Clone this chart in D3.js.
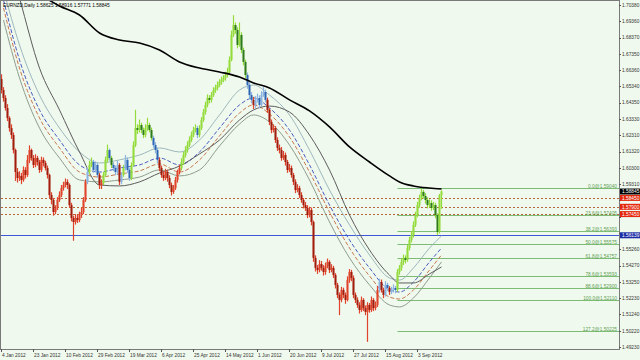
<!DOCTYPE html>
<html>
<head>
<meta charset="utf-8">
<script src="https://cdn.jsdelivr.net/npm/d3@7"></script>
<style>
  html, body { margin: 0; padding: 0; background: #f0f9ee; }
  #chart { width: 640px; height: 360px; }
  text { font-family: "Liberation Sans", Arial, sans-serif; }
</style>
</head>
<body>
<div id="chart"></div>
<script>
// EURNZD daily, Jan - Sep 2012 (prices in points, 1 point = 0.0001)
const symbolTitle = "EURNZD,Daily  1.58625 1.58916 1.57771 1.58845";

const dateLabels = ["4 Jan 2012", "23 Jan 2012", "10 Feb 2012", "29 Feb 2012", "19 Mar 2012", "6 Apr 2012",
  "25 Apr 2012", "14 May 2012", "1 Jun 2012", "20 Jun 2012", "9 Jul 2012", "27 Jul 2012", "15 Aug 2012", "3 Sep 2012"];
const dateBars = [0, 16, 32, 48, 64, 80, 96, 112, 128, 144, 160, 176, 192, 208];

const priceTicks = [1.70380, 1.69360, 1.68370, 1.67350, 1.66360, 1.65340, 1.64350, 1.63330, 1.62310, 1.61320,
  1.60300, 1.59310, 1.58290, 1.57300, 1.56280, 1.55260, 1.54270, 1.53250, 1.52230, 1.51240, 1.50220, 1.49230];

const opens = [
  16580,16512,16463,16401,16339,16277,16234,16141,16005,15968,
  15981,15956,16018,15987,16080,16141,16092,16049,16092,16067,
  16018,16080,16061,16030,15987,15863,15832,15758,15783,15832,
  15863,15906,15925,15944,15925,15801,15721,15696,15721,15708,
  15739,15758,15832,15944,16005,16049,16067,16018,16049,15987,
  15925,15937,15987,16080,16141,16092,16049,16030,16005,16049,
  15944,15987,16030,16080,16018,15968,16049,16172,16277,16265,
  16296,16265,16234,16277,16296,16265,16216,16172,16141,16080,
  16030,15987,15968,16005,15968,15925,15882,15906,15956,16005,
  16030,16067,16110,16141,16172,16203,16234,16265,16277,16234,
  16277,16327,16376,16420,16463,16451,16481,16512,16525,16543,
  16562,16574,16587,16605,16624,16698,16853,16914,16883,16791,
  16853,16760,16686,16605,16543,16481,16451,16420,16451,16463,
  16420,16481,16500,16451,16389,16315,16265,16277,16203,16154,
  16141,16092,16110,16067,16018,16030,15987,15944,15894,15906,
  15863,15832,15801,15783,15739,15770,15696,15474,15412,15399,
  15436,15412,15387,15424,15449,15399,15412,15368,15307,15245,
  15214,15276,15245,15214,15337,15387,15350,15245,15214,15183,
  15152,15214,15164,15140,15183,15152,15214,15164,15183,15276,
  15325,15276,15245,15307,15288,15263,15276,15288,15276,15387,
  15412,15449,15474,15461,15535,15585,15616,15678,15739,15801,
  15844,15882,15857,15832,15801,15813,15783,15801,15739,15634,
  15862];
const highs = [
  16610,16530,16480,16425,16350,16300,16250,16150,16030,16010,
  16000,16040,16035,16110,16170,16150,16110,16115,16105,16080,
  16100,16095,16075,16045,15995,15880,15845,15800,15850,15885,
  15925,15945,15965,15960,15935,15815,15735,15745,15740,15760,
  15785,15850,15960,16030,16075,16095,16080,16070,16060,16000,
  15960,16005,16100,16175,16150,16105,16065,16045,16075,16060,
  16005,16050,16110,16095,16030,16065,16195,16390,16300,16330,
  16310,16280,16300,16340,16310,16280,16230,16190,16155,16095,
  16045,16010,16025,16020,15985,15940,15925,15975,16020,16050,
  16090,16130,16165,16195,16225,16255,16285,16300,16290,16295,
  16345,16395,16440,16485,16480,16500,16530,16545,16565,16580,
  16595,16605,16625,16650,16720,16880,16975,16930,16900,16930,
  16870,16775,16700,16620,16560,16500,16470,16475,16490,16480,
  16505,16530,16515,16465,16400,16330,16300,16290,16220,16175,
  16160,16135,16125,16080,16055,16045,16000,15960,15930,15920,
  15880,15845,15820,15800,15790,15785,15705,15490,15430,15460,
  15455,15430,15445,15470,15460,15435,15425,15380,15320,15260,
  15295,15290,15260,15360,15405,15400,15365,15260,15230,15200,
  15235,15225,15180,15200,15195,15235,15225,15205,15300,15345,
  15340,15290,15330,15320,15300,15295,15310,15300,15405,15430,
  15470,15495,15490,15555,15605,15640,15700,15760,15820,15865,
  15904,15895,15875,15850,15835,15830,15820,15815,15750,15870,
  15892];
const lows = [
  16490,16440,16385,16320,16255,16210,16120,15950,15940,15950,
  15930,15945,15965,15975,16060,16075,16030,16035,16045,16000,
  16005,16040,16015,15965,15845,15805,15735,15745,15770,15820,
  15850,15890,15910,15900,15785,15700,15580,15680,15690,15695,
  15720,15745,15820,15930,15990,16035,16000,16005,15970,15900,
  15900,15925,15975,16065,16075,16030,16010,15985,15990,15925,
  15930,15975,16015,16000,15950,15955,16040,16160,16240,16250,
  16245,16215,16220,16260,16250,16200,16155,16120,16060,16010,
  15970,15950,15955,15945,15905,15860,15870,15895,15940,15990,
  16015,16050,16095,16125,16160,16190,16220,16250,16215,16220,
  16265,16315,16360,16405,16430,16435,16470,16495,16510,16530,
  16545,16560,16570,16590,16610,16690,16840,16860,16770,16780,
  16740,16665,16585,16520,16460,16430,16395,16400,16435,16400,
  16410,16470,16435,16370,16295,16245,16250,16185,16135,16120,
  16075,16080,16045,16000,16005,15970,15925,15875,15880,15845,
  15815,15780,15765,15720,15725,15675,15450,15390,15375,15385,
  15395,15365,15370,15410,15380,15385,15350,15285,15225,15120,
  15200,15225,15190,15205,15320,15330,15225,15195,15165,15130,
  15140,15145,15120,14955,15135,15140,15145,15150,15170,15260,
  15260,15225,15235,15270,15245,15250,15260,15255,15265,15370,
  15395,15430,15440,15450,15520,15570,15600,15665,15725,15785,
  15830,15840,15810,15780,15785,15765,15770,15720,15614,15625,
  15777];
const closes = [
  16512,16463,16401,16339,16277,16234,16141,16005,15968,15981,
  15956,16018,15987,16080,16141,16092,16049,16092,16067,16018,
  16080,16061,16030,15987,15863,15832,15758,15783,15832,15863,
  15906,15925,15944,15925,15801,15721,15696,15721,15708,15739,
  15758,15832,15944,16005,16049,16067,16018,16049,15987,15925,
  15937,15987,16080,16141,16092,16049,16030,16005,16049,15944,
  15987,16030,16080,16018,15968,16049,16172,16277,16265,16296,
  16265,16234,16277,16296,16265,16216,16172,16141,16080,16030,
  15987,15968,16005,15968,15925,15882,15906,15956,16005,16030,
  16067,16110,16141,16172,16203,16234,16265,16277,16234,16277,
  16327,16376,16420,16463,16451,16481,16512,16525,16543,16562,
  16574,16587,16605,16624,16698,16853,16914,16883,16791,16853,
  16760,16686,16605,16543,16481,16451,16420,16451,16463,16420,
  16481,16500,16451,16389,16315,16265,16277,16203,16154,16141,
  16092,16110,16067,16018,16030,15987,15944,15894,15906,15863,
  15832,15801,15783,15739,15770,15696,15474,15412,15399,15436,
  15412,15387,15424,15449,15399,15412,15368,15307,15245,15214,
  15276,15245,15214,15337,15387,15350,15245,15214,15183,15152,
  15214,15164,15140,15183,15152,15214,15164,15183,15276,15325,
  15276,15245,15307,15288,15263,15276,15288,15276,15387,15412,
  15449,15474,15461,15535,15585,15616,15678,15739,15801,15844,
  15882,15857,15832,15801,15813,15783,15801,15739,15634,15862,
  15885];

// trend colour of each bar as runs: r = down, g = up, b = neutral
const trendRuns = [["r",43],["b",1],["g",2],["b",3],["r",2],["g",3],["b",1],["g",1],["b",1],["b",2],["r",1],
  ["b",1],["g",1],["b",3],["g",11],["b",3],["r",11],["g",8],["b",1],["g",24],["b",3],["r",1],["b",6],["r",56],
  ["b",1],["r",2],["b",2],["r",1],["b",3],["g",23]];

// moving averages, read at these bars
const maBars = [1, 9, 19, 29, 39, 49, 59, 69, 79, 89, 99, 109, 119, 126, 134, 144, 154, 164, 174, 184, 194, 199, 206, 214, 220];
const maSlow = [17255,17193,17106,17032,16976,16865,16822,16803,16760,16686,16648,16624,16593,16556,16525,16451,16383,16284,16160,16067,15981,15944,15919,15906,15900];
const maMid = [17440,17081,16648,16389,16129,15925,15919,15944,15999,16042,16117,16203,16327,16389,16413,16376,16234,16018,15739,15523,15368,15319,15319,15375,15418];
const bandUpper = [17131,16791,16481,16277,16129,16061,16080,16110,16154,16129,16203,16358,16512,16543,16481,16358,16141,15894,15678,15492,15350,15337,15412,15535,15610];
const bandBlue = [17069,16698,16389,16203,16049,16005,16030,16049,16092,16049,16129,16277,16420,16463,16401,16265,16049,15801,15585,15412,15276,15263,15325,15449,15535];
const bandBrown = [17020,16648,16339,16154,16005,15974,15993,16012,16055,16005,16080,16228,16370,16420,16364,16222,16005,15758,15535,15362,15232,15220,15276,15399,15492];
const bandLower = [16945,16587,16277,16092,15956,15944,15956,15974,16018,15981,16018,16166,16302,16358,16315,16172,15956,15696,15474,15307,15183,15171,15226,15350,15449];

const levelPrices = [1.58450, 1.57900, 1.57450];
const supportPrice = 1.56139;
const lastPrice = 1.58845;

const fibStartBar = 198;
const fibRatios = ["0.0", "23.6", "38.2", "50.0", "61.8", "78.6", "88.6", "100.0", "127.2"];
const fibPrices = [1.59040, 1.57405, 1.56393, 1.55575, 1.54757, 1.53593, 1.52900, 1.52110, 1.50225];

function drawChart() {
    const width = 640, height = 360;
    const plot = { left: 1, top: 1, right: 619, bottom: 349 };

    const svg = d3.select('#chart').append('svg')
        .attr('width', width)
        .attr('height', height);

    svg.append('rect').attr('width', width).attr('height', height).attr('fill', '#f0f9ee');

    svg.append('clipPath').attr('id', 'plotClip')
        .append('rect')
        .attr('x', plot.left).attr('y', plot.top)
        .attr('width', plot.right - plot.left).attr('height', plot.bottom - plot.top);

    const x = d3.scaleLinear().domain([0, 1]).range([1.5, 3.5]);
    const y = d3.scaleLinear().domain([1.4923, 1.7038]).range([347, 5]);
    const pt = v => v / 10000;
    const crisp = v => Math.round(y(v)) + 0.5;

    const g = svg.append('g').attr('clip-path', 'url(#plotClip)');

    // horizontal levels
    g.selectAll('.level')
        .data(levelPrices)
        .enter().append('line')
        .attr('x1', plot.left).attr('x2', plot.right)
        .attr('y1', crisp).attr('y2', crisp)
        .attr('stroke', '#b8643a')
        .attr('stroke-dasharray', '2,2');

    g.append('line')
        .attr('x1', plot.left).attr('x2', plot.right)
        .attr('y1', crisp(supportPrice)).attr('y2', crisp(supportPrice))
        .attr('stroke', '#3f56d8')
        .attr('stroke-width', 1.2);

    // fibonacci levels
    g.selectAll('.fib')
        .data(fibPrices)
        .enter().append('line')
        .attr('x1', x(fibStartBar)).attr('x2', plot.right)
        .attr('y1', crisp).attr('y2', crisp)
        .attr('stroke', '#7cbc74');

    svg.selectAll('.fibLabel')
        .data(fibPrices)
        .enter().append('text')
        .attr('x', plot.right - 2)
        .attr('y', d => Math.round(y(d)) - 0.5)
        .attr('text-anchor', 'end')
        .attr('font-size', 4.8)
        .attr('fill', '#5f9f55')
        .text((d, i) => fibRatios[i] + '@' + d.toFixed(5));

    // moving averages
    const maLine = d3.line()
        .x((d, i) => x(maBars[i]))
        .y(d => y(pt(d)))
        .curve(d3.curveMonotoneX);

    const maStyles = [
        { data: bandLower, color: '#8d9d8d', dash: null },
        { data: bandBrown, color: '#c87850', dash: '4,2' },
        { data: bandBlue, color: '#4a5cc0', dash: '4,2' },
        { data: bandUpper, color: '#9cb8bc', dash: null },
        { data: maMid, color: '#5c5c5c', dash: null }
    ];
    maStyles.forEach(s => {
        g.append('path')
            .attr('d', maLine(s.data))
            .attr('fill', 'none')
            .attr('stroke', s.color)
            .attr('stroke-width', 1)
            .attr('stroke-dasharray', s.dash);
    });

    // candles
    const trend = [];
    trendRuns.forEach(r => { for (let k = 0; k < r[1]; k++) trend.push(r[0]); });
    const barColors = {
        r: { up: '#e0442a', down: '#a01c0c' },
        g: { up: '#94dc3c', down: '#2c7a1a' },
        b: { up: '#8cb4e2', down: '#2e66b4' }
    };
    const bars = closes.map((c, i) => ({
        i: i, o: pt(opens[i]), h: pt(highs[i]), l: pt(lows[i]), c: pt(c), t: trend[i]
    }));

    g.selectAll('.wick')
        .data(bars)
        .enter().append('line')
        .attr('x1', d => x(d.i)).attr('x2', d => x(d.i))
        .attr('y1', d => y(d.h)).attr('y2', d => y(d.l))
        .attr('stroke', d => barColors[d.t].up)
        .attr('stroke-width', 1.2);

    g.selectAll('.body')
        .data(bars)
        .enter().append('rect')
        .attr('x', d => x(d.i) - 1)
        .attr('width', 2)
        .attr('y', d => y(Math.max(d.o, d.c)))
        .attr('height', d => Math.max(1, Math.abs(y(d.o) - y(d.c))))
        .attr('fill', d => d.c >= d.o ? barColors[d.t].up : barColors[d.t].down);

    g.append('path')
        .attr('d', maLine(maSlow))
        .attr('fill', 'none')
        .attr('stroke', '#000')
        .attr('stroke-width', 1.6);

    // frame and axes
    svg.append('rect')
        .attr('x', 0.5).attr('y', 0.5)
        .attr('width', plot.right).attr('height', plot.bottom)
        .attr('fill', 'none')
        .attr('stroke', '#7a7a7a');

    const tagPrices = [lastPrice].concat(levelPrices, [supportPrice]);
    const tagFill = ['#000000', '#e3280e', '#e3280e', '#e3280e', '#1c2ea6'];

    svg.selectAll('.ytick')
        .data(priceTicks)
        .enter().append('line')
        .attr('x1', plot.right).attr('x2', plot.right + 2)
        .attr('y1', crisp).attr('y2', crisp)
        .attr('stroke', '#555');

    // labels that sit under a price tag are hidden, as on the terminal
    const visibleTicks = priceTicks.filter(t => tagPrices.every(p => Math.abs(y(p) - y(t)) > 5.5));
    svg.selectAll('.ylabel')
        .data(visibleTicks)
        .enter().append('text')
        .attr('x', plot.right + 3)
        .attr('y', d => y(d) + 1.8)
        .attr('font-size', 4.8)
        .attr('fill', '#333')
        .text(d => d.toFixed(5));

    svg.selectAll('.xtick')
        .data(dateBars)
        .enter().append('line')
        .attr('x1', d => Math.round(x(d)) - 0.5).attr('x2', d => Math.round(x(d)) - 0.5)
        .attr('y1', plot.bottom).attr('y2', plot.bottom + 3)
        .attr('stroke', '#555');

    svg.selectAll('.xlabel')
        .data(dateBars)
        .enter().append('text')
        .attr('x', d => x(d) + 0.5)
        .attr('y', 357)
        .attr('font-size', 4.8)
        .attr('fill', '#333')
        .text((d, i) => dateLabels[i]);

    // price tags on the axis
    tagPrices.forEach((p, i) => {
        svg.append('rect')
            .attr('x', plot.right + 1).attr('y', y(p) - 3)
            .attr('width', 20).attr('height', 6)
            .attr('fill', tagFill[i]);
        svg.append('text')
            .attr('x', plot.right + 3).attr('y', y(p) + 1.8)
            .attr('font-size', 4.8)
            .attr('fill', '#fff')
            .text(p.toFixed(5));
    });

    svg.append('text')
        .attr('x', 3).attr('y', 7)
        .attr('font-size', 4.8)
        .attr('fill', '#000')
        .text(symbolTitle);
}

drawChart();
</script>
</body>
</html>
